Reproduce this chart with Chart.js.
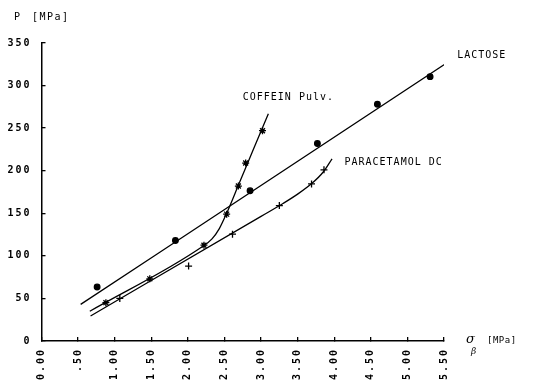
<!DOCTYPE html>
<html>
<head>
<meta charset="utf-8">
<script src="https://cdn.jsdelivr.net/npm/chart.js@4.4.0/dist/chart.umd.min.js"></script>
<style>
  body { margin: 0; background: #fff; }
  canvas { display: block; }
</style>
</head>
<body>
<canvas id="myChart" width="546" height="384"></canvas>
<script>
// measured points
const lactoseX = [0.76, 1.83, 2.85, 3.77, 4.59, 5.31];
const lactoseP = [63.5, 118, 176.5, 232, 278, 310.5];
const coffeinX = [0.88, 1.48, 2.22, 2.53, 2.69, 2.79, 3.02];
const coffeinP = [45, 73, 112.5, 149, 182, 209, 247];
const paraX = [1.07, 2.01, 2.61, 3.25, 3.69, 3.86];
const paraP = [50, 88, 125.5, 159, 184.5, 201];

// fitted curves
const lactoseFitX = [0.535, 5.58];
const lactoseFitP = [43, 329];
const coffeinFitX = [0.66, 2.2, 2.33, 2.43, 2.53, 2.7, 2.9, 3.1];
const coffeinFitP = [35, 111, 120, 132, 150, 185, 226, 267];
const paraFitX = [0.67, 3.0, 3.3, 3.5, 3.7, 3.85, 3.97];
const paraFitP = [29.4, 146.4, 161.5, 172.5, 185.5, 198.5, 214];

const curveLabels = ['LACTOSE', 'COFFEIN Pulv.', 'PARACETAMOL DC'];
const curveLabelX = [5.68, 2.75, 4.14];
const curveLabelY = [335, 286, 210];

const pts = (xs, ys) => xs.map((x, i) => ({x: x, y: ys[i]}));

const MONO = '"DejaVu Sans Mono", "Liberation Mono", monospace';

const lineSet = (xs, ys) => ({
    data: pts(xs, ys),
    showLine: true,
    borderColor: '#000',
    borderWidth: 1.3,
    pointRadius: 0,
    tension: 0.4,
    cubicInterpolationMode: 'monotone',
    fill: false
});

const markSet = (xs, ys, style, r) => ({
    data: pts(xs, ys),
    showLine: false,
    pointStyle: style,
    pointRadius: r,
    borderColor: '#000',
    backgroundColor: '#000',
    borderWidth: 1.3
});

const textPlugin = {
    id: 'texts',
    beforeDraw(chart) {
        chart.ctx.letterSpacing = '2px';
    },
    afterDraw(chart) {
        const ctx = chart.ctx;
        const xs = chart.scales.x, ys = chart.scales.y;
        ctx.save();
        ctx.fillStyle = '#000';
        ctx.textBaseline = 'middle';
        ctx.textAlign = 'left';
        ctx.letterSpacing = '1px';
        ctx.font = '10px ' + MONO;
        curveLabels.forEach((t, i) => {
            ctx.fillText(t, xs.getPixelForValue(curveLabelX[i]), ys.getPixelForValue(curveLabelY[i]));
        });
        // axis titles
        ctx.letterSpacing = '1.5px';
        ctx.fillText('P', 14, 17);
        ctx.fillText('[MPa]', 32, 17);
        ctx.letterSpacing = '0px';
        ctx.font = 'italic 13px "DejaVu Serif", serif';
        ctx.fillText('\u03c3', 466, 340);
        ctx.font = 'italic 9px "DejaVu Serif", serif';
        ctx.fillText('\u03b2', 471, 352);
        ctx.font = '9px ' + MONO;
        ctx.letterSpacing = '0.5px';
        ctx.fillText('[MPa]', 487, 341);
        ctx.restore();
    }
};

const config = {
    type: 'scatter',
    data: {
        datasets: [
            lineSet(lactoseFitX, lactoseFitP),
            lineSet(coffeinFitX, coffeinFitP),
            lineSet(paraFitX, paraFitP),
            markSet(lactoseX, lactoseP, 'circle', 2.8),
            markSet(coffeinX, coffeinP, 'star', 3.5),
            markSet(paraX, paraP, 'cross', 3.5)
        ]
    },
    options: {
        responsive: false,
        animation: false,
        layout: { padding: { left: 0, top: 43, right: 102, bottom: 0 } },
        plugins: {
            legend: { display: false },
            tooltip: { enabled: false }
        },
        scales: {
            x: {
                type: 'linear',
                min: 0,
                max: 5.5,
                afterFit: s => { s.height = 43; },
                border: { color: '#000', width: 1.5 },
                grid: { drawOnChartArea: false, color: '#000', tickLength: -4, lineWidth: 1.3 },
                ticks: {
                    stepSize: 0.5,
                    minRotation: 90,
                    maxRotation: 90,
                    padding: 11,
                    color: '#000',
                    font: { family: MONO, size: 10, weight: 'bold' },
                    callback: v => v === 0.5 ? '.50' : Number(v).toFixed(2)
                }
            },
            y: {
                min: 0,
                max: 350,
                afterFit: s => { s.width = 41.5; },
                border: { color: '#000', width: 1.5 },
                grid: { drawOnChartArea: false, color: '#000', tickLength: -4, lineWidth: 1.3 },
                ticks: {
                    stepSize: 50,
                    padding: 14,
                    color: '#000',
                    font: { family: MONO, size: 10, weight: 'bold' },
                    callback: v => String(v)
                }
            }
        }
    },
    plugins: [textPlugin]
};

const myChart = new Chart(document.getElementById('myChart'), config);
</script>
</body>
</html>
